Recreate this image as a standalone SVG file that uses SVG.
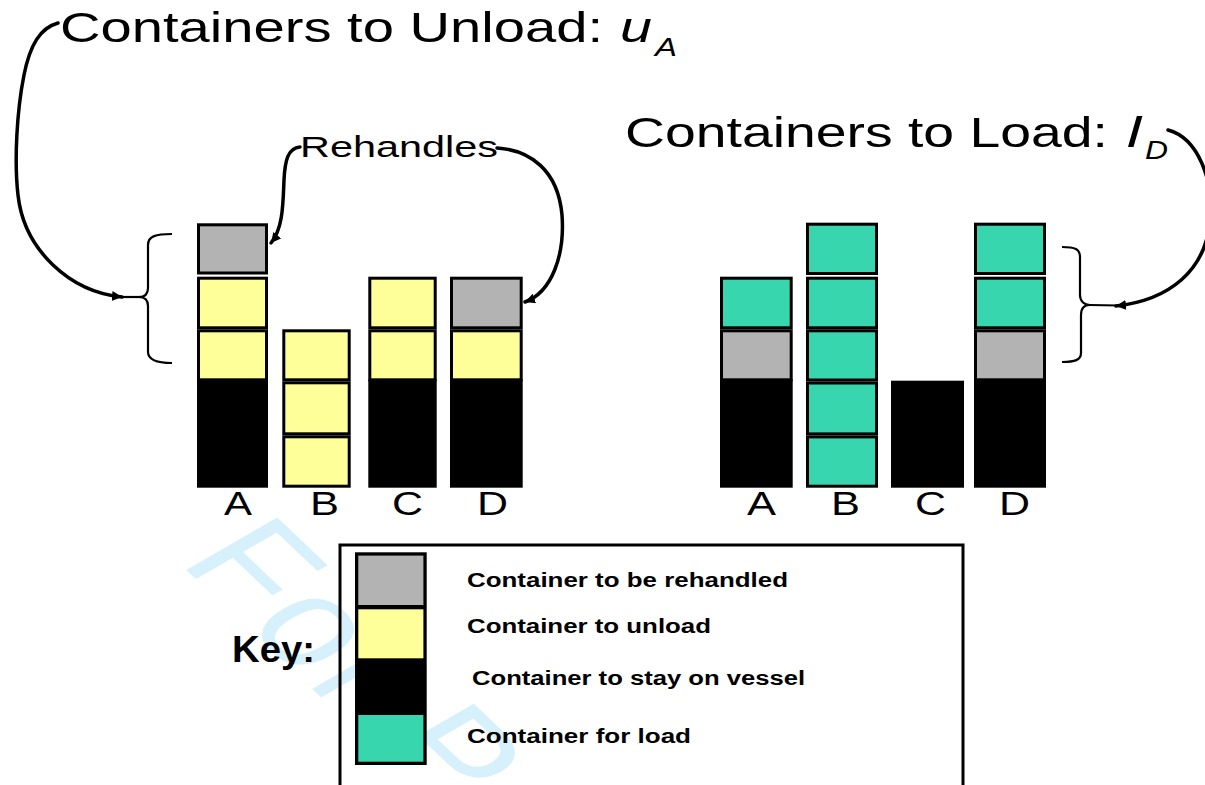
<svg xmlns="http://www.w3.org/2000/svg" width="1205" height="785" viewBox="0 0 1205 785">
  <defs>
    <style>
      .cell{stroke:#000;stroke-width:3}
      .gr{fill:#b3b3b3}
      .ye{fill:#ffff99}
      .gn{fill:#38d6ae}
      .bk{fill:#000}
      .txt{font-family:"Liberation Sans",Arial,Helvetica,sans-serif;fill:#000}
      .lbl{font-size:32.5px}
      .title{font-size:42px}
      .key{font-size:19.5px;font-weight:bold}
      .curve{fill:none;stroke:#000;stroke-width:3.5;stroke-linecap:round}
      .thin{fill:none;stroke:#000;stroke-width:2.2}
      .wm{font-family:"Liberation Sans",Arial,sans-serif;font-size:124px;fill:#d6f1fc;letter-spacing:4px}
    </style>
    <marker id="head" markerUnits="userSpaceOnUse" markerWidth="12" markerHeight="12" refX="10" refY="5" orient="auto">
      <path d="M0,0 L10,5 L0,10 z" fill="#000"/>
    </marker>
  </defs>

  <rect width="1205" height="785" fill="#fff"/>

  <!-- faint background stamp -->
  <text class="wm" transform="translate(178,562) scale(1.35,1) rotate(52)">For P</text>

  <!-- titles -->
  <g id="title-unload" class="txt">
    <text class="title" x="60" y="42" textLength="543" lengthAdjust="spacingAndGlyphs">Containers to Unload:</text>
    <text class="title" x="620" y="42" font-style="italic" textLength="32" lengthAdjust="spacingAndGlyphs">u</text>
    <text x="655" y="56" font-size="25" font-style="italic" textLength="22" lengthAdjust="spacingAndGlyphs">A</text>
  </g>
  <g id="title-load" class="txt">
    <text class="title" x="625" y="147" textLength="483" lengthAdjust="spacingAndGlyphs">Containers to Load:</text>
    <text class="title" x="1127" y="147" font-style="italic" textLength="14" lengthAdjust="spacingAndGlyphs">l</text>
    <text x="1145" y="159" font-size="25" font-style="italic" textLength="23" lengthAdjust="spacingAndGlyphs">D</text>
  </g>
  <g id="rehandles-label" class="txt">
    <text x="300" y="157" font-size="30" textLength="198" lengthAdjust="spacingAndGlyphs">Rehandles</text>
  </g>

  <!-- unload side: bays A-D -->
  <g id="unload-A">
    <rect class="cell gr" x="198.5" y="224.8" width="68" height="48.2"/>
    <rect class="cell ye" x="198.5" y="278.2" width="68" height="49.6"/>
    <rect class="cell ye" x="198.5" y="330.8" width="68" height="49"/>
    <rect class="bk" x="197" y="379.3" width="71" height="108.4"/>
    <text class="txt lbl" x="224" y="515" textLength="28" lengthAdjust="spacingAndGlyphs">A</text>
  </g>
  <g id="unload-B">
    <rect class="cell ye" x="283.8" y="330.8" width="65.4" height="49"/>
    <rect class="cell ye" x="283.8" y="382.8" width="65.4" height="51"/>
    <rect class="cell ye" x="283.8" y="436.8" width="65.4" height="49.4"/>
    <text class="txt lbl" x="310" y="515" textLength="29" lengthAdjust="spacingAndGlyphs">B</text>
  </g>
  <g id="unload-C">
    <rect class="cell ye" x="369.8" y="278.2" width="65.4" height="49.6"/>
    <rect class="cell ye" x="369.8" y="330.8" width="65.4" height="49"/>
    <rect class="bk" x="368.3" y="379.3" width="68.4" height="108.4"/>
    <text class="txt lbl" x="392" y="515" textLength="31" lengthAdjust="spacingAndGlyphs">C</text>
  </g>
  <g id="unload-D">
    <rect class="cell gr" x="451.5" y="278.2" width="69.7" height="49.6"/>
    <rect class="cell ye" x="451.5" y="330.8" width="69.7" height="49"/>
    <rect class="bk" x="450" y="379.3" width="72.7" height="108.4"/>
    <text class="txt lbl" x="477" y="515" textLength="31" lengthAdjust="spacingAndGlyphs">D</text>
  </g>

  <!-- load side: bays A-D -->
  <g id="load-A">
    <rect class="cell gn" x="721.5" y="278.2" width="69.7" height="49.6"/>
    <rect class="cell gr" x="721.5" y="330.8" width="69.7" height="49"/>
    <rect class="bk" x="720" y="379.3" width="72.7" height="108.4"/>
    <text class="txt lbl" x="747" y="515" textLength="29" lengthAdjust="spacingAndGlyphs">A</text>
  </g>
  <g id="load-B">
    <rect class="cell gn" x="807.5" y="224.2" width="69" height="49.3"/>
    <rect class="cell gn" x="807.5" y="278.2" width="69" height="49.6"/>
    <rect class="cell gn" x="807.5" y="330.8" width="69" height="49.2"/>
    <rect class="cell gn" x="807.5" y="383" width="69" height="50.9"/>
    <rect class="cell gn" x="807.5" y="436.9" width="69" height="49.3"/>
    <text class="txt lbl" x="831" y="515" textLength="29" lengthAdjust="spacingAndGlyphs">B</text>
  </g>
  <g id="load-C">
    <rect class="bk" x="891" y="380.7" width="73" height="107"/>
    <text class="txt lbl" x="915" y="515" textLength="31" lengthAdjust="spacingAndGlyphs">C</text>
  </g>
  <g id="load-D">
    <rect class="cell gn" x="975.5" y="224.2" width="69" height="49.3"/>
    <rect class="cell gn" x="975.5" y="278.2" width="69" height="49.6"/>
    <rect class="cell gr" x="975.5" y="330.8" width="69" height="49"/>
    <rect class="bk" x="974" y="379.3" width="72" height="108.4"/>
    <text class="txt lbl" x="999" y="515" textLength="31" lengthAdjust="spacingAndGlyphs">D</text>
  </g>

  <!-- braces grouping the affected tiers -->
  <g id="brace-unload">
    <path class="thin" d="M172,234 C156,234 148,236 148,245 L148,288 C148,294 145,297 139,297 C145,297 148,300 148,306 L148,352 C148,360 156,363 172,363"/>
  </g>
  <g id="brace-load">
    <path class="thin" d="M1062,247 C1075,247 1080,249 1080,257 L1080,295 C1080,301 1084,305 1090,305 C1084,305 1081,309 1081,315 L1081,353 C1081,360 1075,362 1062,362"/>
  </g>

  <!-- legend -->
  <g id="key">
    <text class="txt" x="232" y="662" font-size="36" font-weight="bold" textLength="83" lengthAdjust="spacingAndGlyphs">Key:</text>
    <rect x="340" y="545" width="623" height="260" fill="none" stroke="#000" stroke-width="3"/>
    <rect x="355" y="552.3" width="71.7" height="212.7" fill="#000"/>
    <rect class="gr" x="358.3" y="555.6" width="65.1" height="49.4"/>
    <rect class="ye" x="358.3" y="609.3" width="65.1" height="49"/>
    <rect class="gn" x="358.3" y="715" width="65.1" height="46.7"/>
    <text class="txt key" x="467" y="587" textLength="321" lengthAdjust="spacingAndGlyphs">Container to be rehandled</text>
    <text class="txt key" x="467" y="633" textLength="244" lengthAdjust="spacingAndGlyphs">Container to unload</text>
    <text class="txt key" x="472" y="685" textLength="333" lengthAdjust="spacingAndGlyphs">Container to stay on vessel</text>
    <text class="txt key" x="467" y="743" textLength="224" lengthAdjust="spacingAndGlyphs">Container for load</text>
  </g>

  <!-- curved pointers -->
  <g id="connectors">
    <path class="curve" d="M58,23 C40,28 30,45 24,75 C17,110 14,160 18,195 C24,250 70,292 122,297" marker-end="url(#head)"/>
    <path class="thin" d="M118,297 L140,297"/>
    <path class="curve" d="M300,147 C288,148 285,160 284,180 C283,205 283,228 271,243" marker-end="url(#head)"/>
    <path class="curve" d="M497,148 C530,150 558,170 562,215 C565,255 552,292 525,302" marker-end="url(#head)"/>
    <path class="curve" d="M1168,130 C1198,138 1214,180 1210,220 C1206,270 1170,300 1116,306" marker-end="url(#head)"/>
    <path class="thin" d="M1118,305.5 L1090,305"/>
  </g>
</svg>
